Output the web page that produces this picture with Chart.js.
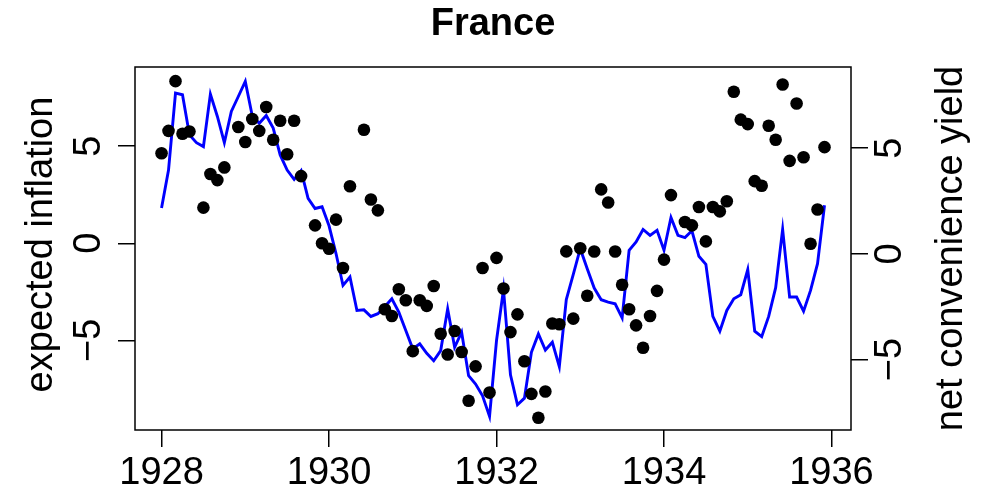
<!DOCTYPE html>
<html>
<head>
<meta charset="utf-8">
<title>France</title>
<script src="https://cdn.jsdelivr.net/npm/chart.js@4.4.1/dist/chart.umd.min.js"></script>
<style>
  html, body { margin: 0; padding: 0; background: #fff; }
  #wrap { width: 987px; height: 492px; }
</style>
</head>
<body>
<div id="wrap"><canvas id="chart" width="987" height="492"></canvas></div>
<script>
// monthly series, Jan 1928 .. Dec 1935
const startYear = 1928;

// expected inflation (left axis, blue line)
const inflation = [
    1.82, 3.77, 7.74, 7.65, 5.58, 5.18, 4.98, 7.68, 6.53, 5.18, 6.79, 7.56,
    8.34, 6.56, 6.18, 6.58, 5.93, 4.55, 3.77, 3.29, 3.74, 2.31, 1.79, 1.88,
    0.90, -0.53, -2.17, -1.74, -3.46, -3.43, -3.77, -3.63, -3.26, -2.86, -3.55, -4.50,
    -5.44, -5.18, -5.67, -6.05, -5.53, -3.38, -5.36, -4.58, -6.82, -7.25, -7.86, -8.92,
    -5.01, -2.38, -6.78, -8.32, -7.98, -5.62, -4.67, -5.50, -5.10, -6.36, -2.90, -1.60,
    -0.28, -1.31, -2.31, -2.91, -3.03, -3.12, -3.84, -0.36, 0.07, 0.71, 0.41, 0.67,
    -0.36, 1.33, 0.41, 0.29, 0.64, -0.67, -1.09, -3.77, -4.53, -3.46, -2.86, -2.65,
    -1.36, -4.53, -4.81, -3.77, -2.29, 0.72, -2.77, -2.77, -3.50, -2.43, -1.05, 1.96
];

// net convenience yield (right axis, black dots); null = no observation
const convYield = [
    4.76, 5.82, 8.17, 5.68, 5.79, null, 2.19, 3.78, 3.49, 4.09, null, 6.00,
    5.29, 6.38, 5.82, 6.95, 5.40, 6.30, 4.71, 6.30, 3.68, null, 1.35, 0.50,
    0.24, 1.62, -0.67, 3.20, null, 5.87, 2.57, 2.06, -2.62, -2.94, -1.67, -2.19,
    -4.60, -2.19, -2.46, -1.52, -3.78, -4.76, -3.65, -4.64, -6.95, -5.32, -0.67, -6.56,
    -0.19, -1.64, -3.70, -2.86, -5.08, -6.62, -7.75, -6.51, -3.29, -3.33, 0.12, -3.06,
    0.27, -1.98, 0.11, 3.05, 2.43, 0.11, -1.46, -2.62, -3.38, -4.44, -2.94, -1.75,
    -0.27, 2.78, null, 1.51, 1.35, 2.22, 0.59, 2.22, 2.01, 2.49, 7.67, 6.35,
    6.14, 3.44, 3.22, 6.06, 5.40, 8.01, 4.40, 7.11, 4.57, 0.48, 2.10, 5.05
];

const yearTicks = [1928, 1930, 1932, 1934, 1936];
const leftTicks = [-5, 0, 5];
const rightTicks = [-5, 0, 5];

const FONT = '"Liberation Sans", Arial, Helvetica, sans-serif';
const tickFont = { family: FONT, size: 38 };

const toPoints = arr => arr.map((v, i) => ({ x: startYear + i / 12, y: v }));
const minus = v => String(v).replace('-', '\u2212');

// R style box, main title and axis titles
const decorations = {
    id: 'decorations',
    afterDraw(chart) {
        const ctx = chart.ctx;
        const a = chart.chartArea;
        const midY = (a.top + a.bottom) / 2;
        ctx.save();
        ctx.strokeStyle = '#000';
        ctx.lineWidth = 1.5;
        ctx.strokeRect(a.left, a.top, a.right - a.left, a.bottom - a.top);

        ctx.fillStyle = '#000';
        ctx.textAlign = 'center';
        ctx.textBaseline = 'middle';
        ctx.font = 'bold 38px ' + FONT;
        ctx.fillText('France', (a.left + a.right) / 2, 25);

        ctx.font = '38px ' + FONT;
        ctx.translate(42, midY - 4);
        ctx.rotate(-Math.PI / 2);
        ctx.fillText('expected inflation', 0, 0);
        ctx.restore();

        ctx.save();
        ctx.fillStyle = '#000';
        ctx.textAlign = 'center';
        ctx.textBaseline = 'middle';
        ctx.font = '38px ' + FONT;
        ctx.translate(952, midY);
        ctx.rotate(-Math.PI / 2);
        ctx.fillText('net convenience yield', 0, 0);
        ctx.restore();
    }
};

const axisGrid = {
    drawOnChartArea: false,
    drawTicks: true,
    tickLength: 17,
    color: '#000',
    lineWidth: 1.5
};

new Chart(document.getElementById('chart'), {
    type: 'line',
    data: {
        datasets: [
            {
                label: 'net convenience yield',
                data: toPoints(convYield),
                yAxisID: 'y1',
                showLine: false,
                pointRadius: 6.3,
                pointBackgroundColor: '#000',
                pointBorderWidth: 0,
                order: 0
            },
            {
                label: 'expected inflation',
                data: toPoints(inflation),
                yAxisID: 'y',
                borderColor: '#0000ff',
                borderWidth: 2.9,
                pointRadius: 0,
                tension: 0,
                order: 1
            }
        ]
    },
    options: {
        responsive: false,
        animation: false,
        devicePixelRatio: 1,
        layout: { padding: { top: 67, left: 0, right: 0, bottom: 0 } },
        plugins: {
            legend: { display: false },
            title: { display: false },
            tooltip: { enabled: false }
        },
        scales: {
            x: {
                type: 'linear',
                position: 'bottom',
                min: 1927.683,
                max: 1936.233,
                afterBuildTicks: s => { s.ticks = yearTicks.map(v => ({ value: v })); },
                afterFit: s => { s.height = 62; },
                grid: axisGrid,
                border: { display: false },
                ticks: {
                    font: tickFont,
                    color: '#000',
                    padding: 4,
                    maxRotation: 0,
                    autoSkip: false,
                    callback: v => String(v)
                }
            },
            y: {
                type: 'linear',
                position: 'left',
                min: -9.62,
                max: 9.08,
                afterBuildTicks: s => { s.ticks = leftTicks.map(v => ({ value: v })); },
                afterFit: s => { s.width = 135; },
                grid: axisGrid,
                border: { display: false },
                ticks: {
                    font: tickFont,
                    color: '#000',
                    minRotation: 90,
                    maxRotation: 90,
                    crossAlign: 'center',
                    padding: 7,
                    autoSkip: false,
                    callback: minus
                }
            },
            y1: {
                type: 'linear',
                position: 'right',
                min: -8.33,
                max: 8.84,
                afterBuildTicks: s => { s.ticks = rightTicks.map(v => ({ value: v })); },
                afterFit: s => { s.width = 136; },
                grid: axisGrid,
                border: { display: false },
                ticks: {
                    font: tickFont,
                    color: '#000',
                    minRotation: 90,
                    maxRotation: 90,
                    crossAlign: 'center',
                    padding: 1,
                    autoSkip: false,
                    callback: minus
                }
            }
        }
    },
    plugins: [decorations]
});
</script>
</body>
</html>
